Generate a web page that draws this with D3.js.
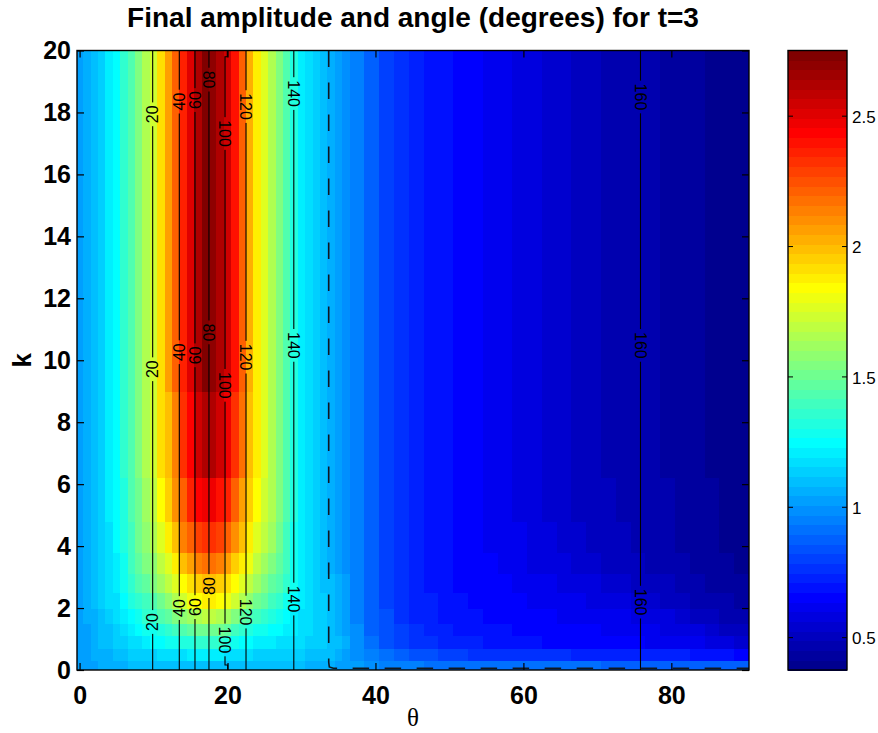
<!DOCTYPE html>
<html>
<head>
<meta charset="utf-8">
<script src="https://cdn.jsdelivr.net/npm/d3@7"></script>
<style>
  body { margin: 0; background: #fff; }
  svg text { font-family: "Liberation Sans", Arial, Helvetica, sans-serif; }
</style>
</head>
<body>
<svg class="chart" width="878" height="733"></svg>
<script>
// Grid of the amplitude map: column edges in theta (deg), row edges in k
var thetaEdges = d3.range(-0.5, 37, 1).concat(d3.range(38.5, 91, 2));
var kEdges = [0, 0.3, 0.7, 1.1, 1.5, 2.0, 2.5, 3.1, 3.8, 4.8, 6.2, 9, 20];

// Amplitude, theta 0..36 (one column per degree), one row per k band
var ampLeft = [
  [1.02,1.03,1.04,1.05,1.06,1.07,1.07,1.08,1.08,1.08,1.09,1.09,1.09,1.10,1.10,1.10,1.10,1.10,1.10,1.10,1.10,1.10,1.09,1.09,1.09,1.09,1.09,1.09,1.08,1.08,1.08,1.07,1.07,1.06,1.05,1.04,1.03],
  [1.02,1.03,1.05,1.06,1.07,1.09,1.10,1.12,1.13,1.14,1.15,1.16,1.17,1.18,1.19,1.20,1.21,1.21,1.21,1.20,1.19,1.18,1.17,1.16,1.15,1.15,1.14,1.14,1.13,1.13,1.12,1.11,1.10,1.09,1.08,1.06,1.04],
  [1.03,1.04,1.06,1.08,1.10,1.13,1.15,1.17,1.19,1.21,1.23,1.25,1.27,1.29,1.31,1.33,1.35,1.36,1.36,1.34,1.31,1.28,1.26,1.24,1.22,1.21,1.20,1.19,1.18,1.17,1.16,1.14,1.13,1.12,1.10,1.08,1.05],
  [1.03,1.04,1.06,1.09,1.11,1.14,1.18,1.21,1.24,1.27,1.30,1.33,1.37,1.41,1.45,1.48,1.50,1.52,1.52,1.50,1.46,1.41,1.37,1.33,1.30,1.28,1.26,1.24,1.22,1.20,1.18,1.16,1.14,1.12,1.10,1.07,1.04],
  [1.03,1.05,1.07,1.10,1.13,1.16,1.21,1.26,1.30,1.34,1.37,1.42,1.47,1.53,1.58,1.63,1.66,1.68,1.68,1.65,1.60,1.54,1.48,1.43,1.39,1.35,1.31,1.28,1.25,1.22,1.19,1.17,1.15,1.12,1.09,1.06,1.03],
  [1.03,1.05,1.08,1.12,1.16,1.19,1.25,1.31,1.36,1.41,1.45,1.52,1.58,1.66,1.74,1.79,1.83,1.87,1.88,1.85,1.79,1.72,1.64,1.58,1.52,1.46,1.40,1.35,1.29,1.25,1.21,1.18,1.15,1.12,1.09,1.06,1.02],
  [1.03,1.06,1.09,1.13,1.17,1.21,1.28,1.35,1.42,1.48,1.53,1.61,1.68,1.77,1.85,1.92,1.97,2.00,2.00,1.97,1.92,1.84,1.76,1.69,1.62,1.55,1.48,1.42,1.35,1.28,1.22,1.18,1.14,1.11,1.08,1.05,1.01],
  [1.03,1.06,1.09,1.14,1.18,1.22,1.30,1.38,1.46,1.53,1.59,1.70,1.78,1.89,1.98,2.06,2.12,2.17,2.17,2.13,2.07,1.97,1.88,1.79,1.71,1.62,1.55,1.47,1.38,1.29,1.22,1.17,1.13,1.10,1.07,1.04,1.00],
  [1.03,1.06,1.10,1.14,1.19,1.23,1.32,1.41,1.50,1.58,1.65,1.78,1.87,2.00,2.12,2.22,2.29,2.33,2.33,2.28,2.22,2.10,1.99,1.88,1.78,1.68,1.60,1.50,1.40,1.30,1.22,1.16,1.12,1.09,1.06,1.02,0.99],
  [1.03,1.07,1.10,1.15,1.20,1.24,1.33,1.42,1.52,1.62,1.70,1.85,1.94,2.09,2.23,2.35,2.43,2.48,2.47,2.41,2.36,2.22,2.08,1.95,1.84,1.73,1.64,1.53,1.42,1.31,1.22,1.16,1.12,1.09,1.06,1.02,0.99],
  [1.03,1.07,1.10,1.15,1.20,1.25,1.34,1.43,1.53,1.64,1.73,1.90,1.99,2.15,2.31,2.45,2.56,2.63,2.62,2.55,2.48,2.32,2.16,2.00,1.88,1.77,1.67,1.56,1.44,1.32,1.22,1.16,1.12,1.09,1.06,1.02,0.99],
  [1.03,1.07,1.10,1.15,1.20,1.25,1.34,1.43,1.53,1.64,1.74,1.93,2.05,2.20,2.36,2.50,2.62,2.72,2.71,2.63,2.55,2.38,2.20,2.03,1.89,1.78,1.67,1.56,1.44,1.32,1.22,1.16,1.12,1.09,1.06,1.02,0.99]
];

// Amplitude, theta 37..90 (two degrees per column), same k bands
var ampRight = [
  [1.01,0.98,0.96,0.95,0.94,0.93,0.93,0.92,0.92,0.92,0.91,0.91,0.91,0.90,0.90,0.90,0.90,0.89,0.89,0.89,0.89,0.88,0.88,0.88,0.87,0.87,0.86],
  [0.99,0.94,0.90,0.87,0.84,0.82,0.80,0.79,0.78,0.77,0.77,0.76,0.76,0.75,0.75,0.74,0.74,0.73,0.73,0.72,0.72,0.71,0.71,0.70,0.69,0.68,0.67],
  [0.97,0.90,0.85,0.81,0.78,0.75,0.73,0.72,0.71,0.70,0.69,0.68,0.68,0.67,0.67,0.66,0.66,0.65,0.65,0.64,0.63,0.62,0.61,0.60,0.58,0.56,0.54],
  [0.97,0.89,0.83,0.79,0.76,0.73,0.71,0.70,0.69,0.68,0.68,0.67,0.66,0.66,0.65,0.64,0.64,0.63,0.62,0.61,0.60,0.59,0.57,0.56,0.54,0.52,0.50],
  [0.96,0.88,0.82,0.78,0.74,0.72,0.70,0.69,0.68,0.67,0.66,0.66,0.65,0.64,0.63,0.62,0.62,0.61,0.60,0.59,0.57,0.56,0.54,0.52,0.50,0.48,0.47],
  [0.95,0.87,0.81,0.77,0.73,0.71,0.69,0.68,0.67,0.66,0.65,0.64,0.63,0.62,0.61,0.60,0.59,0.58,0.57,0.55,0.53,0.52,0.50,0.48,0.46,0.45,0.44],
  [0.95,0.87,0.81,0.76,0.73,0.70,0.68,0.67,0.66,0.65,0.64,0.63,0.61,0.60,0.59,0.57,0.56,0.55,0.53,0.52,0.50,0.49,0.47,0.46,0.44,0.43,0.42],
  [0.95,0.87,0.81,0.76,0.73,0.70,0.68,0.66,0.65,0.64,0.62,0.61,0.59,0.58,0.57,0.55,0.54,0.52,0.51,0.50,0.48,0.47,0.46,0.44,0.43,0.42,0.41],
  [0.95,0.87,0.81,0.76,0.73,0.70,0.68,0.66,0.65,0.63,0.61,0.60,0.58,0.56,0.55,0.53,0.52,0.50,0.49,0.48,0.47,0.46,0.44,0.43,0.42,0.41,0.40],
  [0.95,0.87,0.81,0.76,0.73,0.70,0.68,0.66,0.64,0.62,0.61,0.59,0.57,0.55,0.54,0.52,0.51,0.49,0.48,0.47,0.46,0.45,0.44,0.43,0.42,0.41,0.40],
  [0.95,0.87,0.81,0.76,0.73,0.70,0.68,0.66,0.64,0.62,0.60,0.58,0.56,0.54,0.53,0.51,0.50,0.48,0.47,0.46,0.45,0.44,0.43,0.42,0.41,0.40,0.39],
  [0.95,0.87,0.81,0.76,0.73,0.70,0.68,0.66,0.64,0.62,0.60,0.58,0.56,0.54,0.53,0.51,0.50,0.48,0.47,0.46,0.45,0.44,0.43,0.42,0.41,0.40,0.39]
];

// Angle contours (degrees): theta where each level sits
var contourLevels = [20, 40, 60, 80, 100, 120, 140, 160];
var contourTheta = [9.88, 13.48, 15.60, 17.49, 19.66, 22.50, 28.96, 75.83];
// the 100 contour steps sideways at both ends
var jog100Bottom = [[20.02, 0], [20.02, 0.16], [19.66, 0.16]];
var jog100Top = [[19.66, 19.8], [19.97, 19.8], [19.97, 20]];
// label k positions (top, middle, bottom row) and reading direction (1 = upward)
var labelK = [
  [17.94, 9.71, 1.55],
  [18.35, 10.26, 2.00],
  [18.40, 10.16, 2.03],
  [19.06, 10.90, 2.71],
  [17.32, 9.19, 0.97],
  [18.19, 10.10, 1.87],
  [18.61, 10.48, 2.29],
  [18.50, 10.48, 2.19]
];
var labelUp = [[1,1,1],[1,1,1],[1,1,1],[0,0,1],[0,0,0],[0,0,0],[0,0,0],[0,0,0]];

// Dashed boundary
var dashTheta = [33.68, 33.68, 33.76, 34.3, 90.5];
var dashK = [20, 0.25, 0.1, 0.055, 0.055];

var xTicks = [0, 20, 40, 60, 80];
var yTicks = [0, 2, 4, 6, 8, 10, 12, 14, 16, 18, 20];
var cbTicks = [0.5, 1, 1.5, 2, 2.5];
var vMin = 0.374, vMax = 2.75;

var plotLeft = 77, plotRight = 749, plotTop = 50.5, plotBottom = 670;
var cbLeft = 788, cbRight = 847;

var svg = d3.select(".chart");

var x = d3.scaleLinear().domain([-0.35, 90.5]).range([plotLeft, plotRight]);
var y = d3.scaleLinear().domain([0, 20]).range([plotBottom, plotTop]);

/**** jet colormap, 64 steps ****/
function jet(t) {
    function c(v) { return Math.max(0, Math.min(1, v)); }
    var r = c(1.5 - Math.abs(4 * t - 3));
    var g = c(1.5 - Math.abs(4 * t - 2));
    var b = c(1.5 - Math.abs(4 * t - 1));
    return d3.rgb(r * 255, g * 255, b * 255).formatHex();
}
var jetColors = d3.range(64).map(function(i) { return jet((i + 1) / 64); });
var color = d3.scaleQuantize().domain([vMin, vMax]).range(jetColors);

/**** heat map ****/
var defs = svg.append("defs");
defs.append("clipPath").attr("id", "plotClip")
    .append("rect")
    .attr("x", plotLeft).attr("y", plotTop)
    .attr("width", plotRight - plotLeft).attr("height", plotBottom - plotTop);

var cells = [];
ampLeft.forEach(function(row, r) {
    row.concat(ampRight[r]).forEach(function(v, c) {
        cells.push({ t0: thetaEdges[c], t1: thetaEdges[c + 1], k0: kEdges[r], k1: kEdges[r + 1], v: v });
    });
});

var plot = svg.append("g").attr("clip-path", "url(#plotClip)");

plot.selectAll(".cell")
    .data(cells)
    .enter()
    .append("rect")
    .attr("class", "cell")
    .attr("x", function(d) { return x(d.t0); })
    .attr("y", function(d) { return y(d.k1); })
    .attr("width", function(d) { return x(d.t1) - x(d.t0) + 0.5; })
    .attr("height", function(d) { return y(d.k0) - y(d.k1) + 0.5; })
    .attr("shape-rendering", "crispEdges")
    .style("fill", function(d) { return color(d.v); });

/**** contour labels (drawn first to measure them for the line gaps) ****/
var labels = [];
contourLevels.forEach(function(lev, i) {
    labelK[i].forEach(function(k, j) {
        labels.push({ level: lev, theta: contourTheta[i], k: k, up: labelUp[i][j] });
    });
});

var labelG = svg.append("g");
labelG.selectAll("text")
    .data(labels)
    .enter()
    .append("text")
    .attr("transform", function(d) {
        return "translate(" + x(d.theta) + "," + y(d.k) + ") rotate(" + (d.up ? -90 : 90) + ")";
    })
    .attr("text-anchor", "middle")
    .attr("dy", "0.35em")
    .style("font-size", "16px")
    .style("fill", "#000")
    .text(function(d) { return d.level; })
    .each(function(d) { d.len = this.getComputedTextLength(); });

// mask that cuts the lines where the labels sit
var mask = defs.append("mask").attr("id", "labelMask");
mask.append("rect").attr("x", 0).attr("y", 0).attr("width", 878).attr("height", 733).style("fill", "#fff");
mask.selectAll(".gap")
    .data(labels)
    .enter()
    .append("rect")
    .attr("x", function(d) { return x(d.theta) - 8; })
    .attr("y", function(d) { return y(d.k) - d.len / 2 - 3; })
    .attr("width", 16)
    .attr("height", function(d) { return d.len + 6; })
    .style("fill", "#000");

var line = d3.line()
    .x(function(d) { return x(d[0]); })
    .y(function(d) { return y(d[1]); });

var contourLines = contourLevels.map(function(lev, i) {
    if (lev === 100) {
        return jog100Bottom.concat(jog100Top);
    }
    return [[contourTheta[i], 0], [contourTheta[i], 20]];
});

plot.append("g")
    .attr("mask", "url(#labelMask)")
    .selectAll("path")
    .data(contourLines)
    .enter()
    .append("path")
    .attr("d", line)
    .style("fill", "none")
    .style("stroke", "#000")
    .style("stroke-width", 1.1);

// dashed boundary
plot.append("path")
    .datum(dashTheta.map(function(t, i) { return [t, dashK[i]]; }))
    .attr("d", line)
    .style("fill", "none")
    .style("stroke", "#101820")
    .style("stroke-width", 1.6)
    .style("stroke-dasharray", "16.5,15.5");

labelG.raise();

/**** axes ****/
var tickLen = 7;
var axes = svg.append("g");

axes.append("g")
    .attr("transform", "translate(0," + plotBottom + ")")
    .call(d3.axisBottom(x).tickValues(xTicks).tickSizeInner(-tickLen).tickSizeOuter(0).tickPadding(16))
    .call(function(g) { g.select(".domain").remove(); });

axes.append("g")
    .attr("transform", "translate(0," + plotTop + ")")
    .call(d3.axisTop(x).tickValues(xTicks).tickSizeInner(-tickLen).tickSizeOuter(0).tickFormat(""))
    .call(function(g) { g.select(".domain").remove(); });

axes.append("g")
    .attr("transform", "translate(" + plotLeft + ",0)")
    .call(d3.axisLeft(y).tickValues(yTicks).tickSizeInner(-tickLen).tickSizeOuter(0).tickPadding(6))
    .call(function(g) { g.select(".domain").remove(); });

axes.append("g")
    .attr("transform", "translate(" + plotRight + ",0)")
    .call(d3.axisRight(y).tickValues(yTicks).tickSizeInner(-tickLen).tickSizeOuter(0).tickFormat(""))
    .call(function(g) { g.select(".domain").remove(); });

axes.selectAll(".tick line").style("stroke", "#000").style("stroke-width", 1.2);
axes.selectAll("text")
    .attr("font-family", null)
    .style("font-size", "25px")
    .style("font-weight", "bold")
    .style("fill", "#000");
axes.selectAll("g").attr("font-size", null);

// box around the plot
svg.append("rect")
    .attr("x", plotLeft).attr("y", plotTop)
    .attr("width", plotRight - plotLeft).attr("height", plotBottom - plotTop)
    .style("fill", "none").style("stroke", "#000").style("stroke-width", 1.4);

/**** colorbar ****/
var cbY = d3.scaleLinear().domain([vMin, vMax]).range([plotBottom, plotTop]);
var cbStep = (vMax - vMin) / 64;

svg.append("g").selectAll("rect")
    .data(jetColors)
    .enter()
    .append("rect")
    .attr("x", cbLeft)
    .attr("y", function(d, i) { return cbY(vMin + (i + 1) * cbStep); })
    .attr("width", cbRight - cbLeft)
    .attr("height", function(d, i) { return cbY(vMin + i * cbStep) - cbY(vMin + (i + 1) * cbStep) + 0.5; })
    .attr("shape-rendering", "crispEdges")
    .style("fill", function(d) { return d; });

var cbAxis = svg.append("g")
    .attr("transform", "translate(" + cbRight + ",0)")
    .call(d3.axisRight(cbY).tickValues(cbTicks).tickSizeInner(-5).tickSizeOuter(0).tickPadding(5).tickFormat(d3.format("")))
    .call(function(g) { g.select(".domain").remove(); });
cbAxis.attr("font-size", null).attr("font-family", null);
cbAxis.selectAll("text").style("font-size", "17px").attr("dy", "0.4em");

svg.append("g")
    .attr("transform", "translate(" + cbLeft + ",0)")
    .call(d3.axisLeft(cbY).tickValues(cbTicks).tickSizeInner(-5).tickSizeOuter(0).tickFormat(""))
    .call(function(g) { g.select(".domain").remove(); });

svg.append("rect")
    .attr("x", cbLeft).attr("y", plotTop)
    .attr("width", cbRight - cbLeft).attr("height", plotBottom - plotTop)
    .style("fill", "none").style("stroke", "#000").style("stroke-width", 1.4);

/**** titles ****/
svg.append("text")
    .attr("x", (plotLeft + plotRight) / 2)
    .attr("y", 27)
    .attr("text-anchor", "middle")
    .style("font-size", "28px")
    .style("font-weight", "bold")
    .text("Final amplitude and angle (degrees) for t=3");

svg.append("text")
    .attr("transform", "translate(31," + ((plotTop + plotBottom) / 2) + ") rotate(-90)")
    .attr("text-anchor", "middle")
    .style("font-size", "26px")
    .style("font-weight", "bold")
    .text("k");

svg.append("text")
    .attr("x", (plotLeft + plotRight) / 2)
    .attr("y", 726)
    .attr("text-anchor", "middle")
    .style("font-family", "'Liberation Serif', 'Times New Roman', serif")
    .style("font-size", "25px")
    .text("θ");
</script>
</body>
</html>
